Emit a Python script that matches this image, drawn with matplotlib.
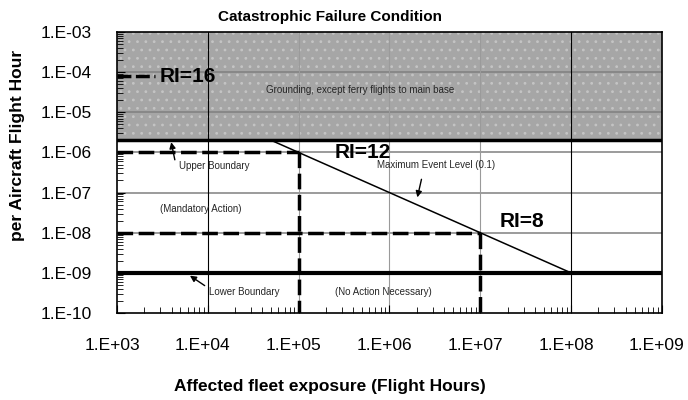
import numpy as np
import matplotlib
matplotlib.use("Agg")
import matplotlib.pyplot as plt
import matplotlib.transforms as mtransforms
from matplotlib.ticker import FixedLocator, LogLocator, NullFormatter

plt.rcParams['font.family'] = ['Liberation Sans', 'DejaVu Sans']
plt.rcParams['hatch.linewidth'] = 0.8

# data
x_decades = [1e3, 1e4, 1e5, 1e6, 1e7, 1e8, 1e9]
x_labels = ["1.E+03", "1.E+04", "1.E+05", "1.E+06", "1.E+07", "1.E+08", "1.E+09"]
y_decades = [1e-10, 1e-9, 1e-8, 1e-7, 1e-6, 1e-5, 1e-4, 1e-3]
y_labels = ["1.E-10", "1.E-09", "1.E-08", "1.E-07", "1.E-06", "1.E-05", "1.E-04", "1.E-03"]
upper_boundary = 2e-6
lower_boundary = 1e-9
event_x = [5e4, 1e8]          # Maximum Event Level (0.1)
event_y = [2e-6, 1e-9]
ri16_x = [1e3, 2.6e3]
ri16_y = 8e-5
ri12 = (1e5, 1e-6)
ri8 = (1e7, 1e-8)

fig = plt.figure(figsize=(6.88, 4.0), dpi=100)
ax = fig.add_axes([0.170, 0.2175, 0.792, 0.7025])
ax.set_xscale("log"); ax.set_yscale("log")
ax.set_xlim(1e3, 1e9); ax.set_ylim(1e-10, 1e-3)

# grounding zone
ax.axhspan(upper_boundary, 1e-3, facecolor="#a6a6a6", edgecolor="#c4c4c4",
           hatch="..", lw=0, zorder=0)

# grid
for y in y_decades[1:-1]:
    ax.axhline(y, color="#808080", lw=1.1, zorder=1)
for x in x_decades[1:-1]:
    c = "black" if x in (1e4, 1e8) else "#9a9a9a"
    ax.axvline(x, color=c, lw=0.8, zorder=1)

# boundaries
ax.axhline(upper_boundary, color="black", lw=2.5, zorder=3)
ax.axhline(lower_boundary, color="black", lw=3, zorder=3)
ax.plot(event_x, event_y, color="black", lw=1.1, zorder=3)

# RI dashed lines
dash = (4.5, 1.6)
ax.plot(ri16_x, [ri16_y, ri16_y], color="black", lw=2.5, dashes=(4, 1.3), zorder=4)
ax.plot([1e3, ri12[0]], [ri12[1], ri12[1]], color="black", lw=2.5, dashes=dash, zorder=4)
ax.plot([ri12[0], ri12[0]], [ri12[1], 1e-10], color="black", lw=2.5, dashes=dash, zorder=4)
ax.plot([1e3, ri8[0]], [ri8[1], ri8[1]], color="black", lw=2.5, dashes=dash, zorder=4)
ax.plot([ri8[0], ri8[0]], [ri8[1], 1e-10], color="black", lw=2.5, dashes=dash, zorder=4)

# labels
bold = dict(fontsize=15, fontweight="bold", va="center", ha="left", zorder=5)
ax.text(2.98e3, ri16_y, "RI=16", **bold)
ax.text(2.5e5, 1.0e-6, "RI=12", **bold)
ax.text(1.65e7, 1.85e-8, "RI=8", **bold)

small = dict(fontsize=7, va="center", ha="left", color="#262626", zorder=5)
ax.text(4.4e4, 3.6e-5, "Grounding, except ferry flights to main base", **small)
ax.text(4.8e3, 4.6e-7, "Upper Boundary", **small)
ax.text(7.3e5, 4.9e-7, "Maximum Event Level (0.1)", **small)
ax.text(2.98e3, 3.9e-8, "(Mandatory Action)", **small)
ax.text(1.03e4, 3.3e-10, "Lower Boundary", **small)
ax.text(2.5e5, 3.3e-10, "(No Action Necessary)", **small)

arr = dict(arrowstyle="-|>", color="black", lw=1.0, mutation_scale=9)
ax.annotate("", xy=(3.9e3, 2.1e-6), xytext=(4.4e3, 5.6e-7), arrowprops=arr, zorder=5)
ax.annotate("", xy=(2.0e6, 6.5e-8), xytext=(2.29e6, 2.5e-7), arrowprops=arr, zorder=5)
ax.annotate("", xy=(6.0e3, 9.3e-10), xytext=(9.8e3, 4.4e-10), arrowprops=arr, zorder=5)

# ticks
ax.xaxis.set_major_locator(FixedLocator(x_decades))
ax.set_xticklabels(x_labels)
ax.yaxis.set_major_locator(FixedLocator(y_decades))
ax.set_yticklabels(y_labels)
ax.xaxis.set_minor_locator(LogLocator(base=10, subs=np.arange(2, 10)))
ax.yaxis.set_minor_locator(LogLocator(base=10, subs=np.arange(2, 10)))
ax.xaxis.set_minor_formatter(NullFormatter())
ax.yaxis.set_minor_formatter(NullFormatter())
ax.tick_params(which="major", direction="in", length=6, width=0.8, labelsize=12.5, pad=18)
ax.tick_params(which="minor", direction="in", length=4, width=0.6)
shift = mtransforms.ScaledTranslation(-5 / 100, 0, fig.dpi_scale_trans)
for lab in ax.get_xticklabels():
    lab.set_transform(lab.get_transform() + shift)
for s in ax.spines.values():
    s.set_linewidth(1.2)

fig.text(0.479, 0.9575, "Catastrophic Failure Condition", fontsize=11, fontweight="bold",
         ha="center", va="center")
fig.text(0.48, 0.0325, "Affected fleet exposure (Flight Hours)", fontsize=12.5,
         fontweight="bold", ha="center", va="center")
fig.text(0.025, 0.6375, "per Aircraft Flight Hour", fontsize=12.5, fontweight="bold",
         ha="center", va="center", rotation=90)

plt.savefig("out.png", dpi=100)
plt.close()
